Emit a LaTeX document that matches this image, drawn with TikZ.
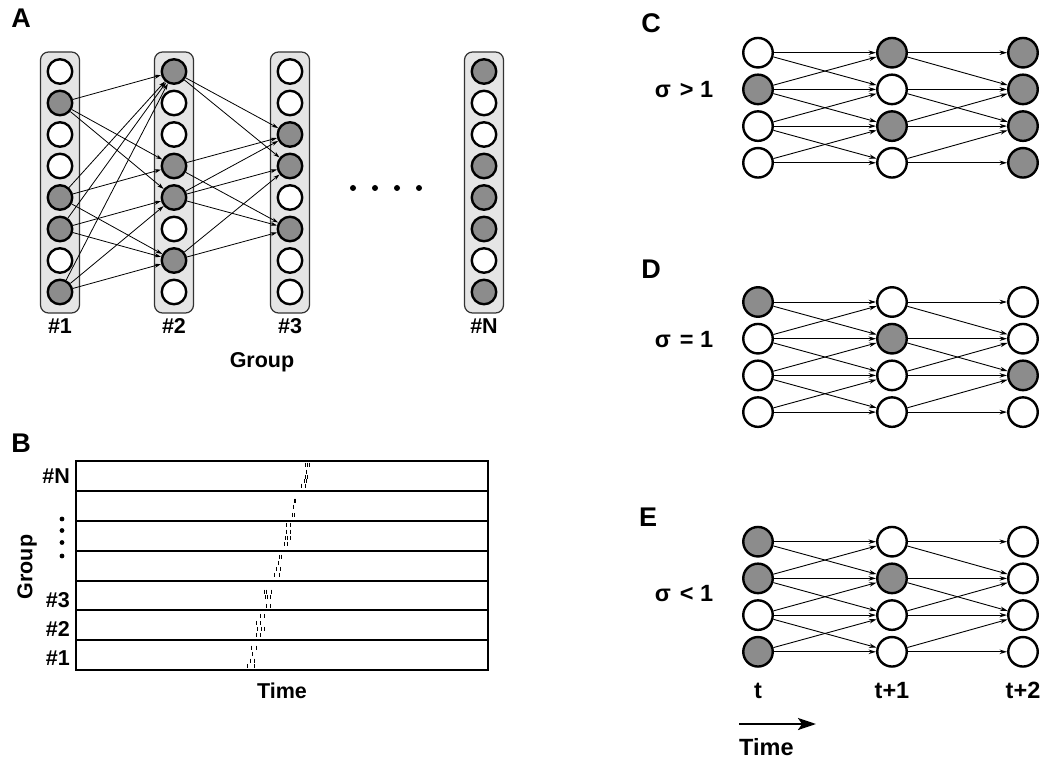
\documentclass[tikz,border=0pt]{standalone}
\usepackage{fontspec}
\setmainfont{Liberation Sans}
\usetikzlibrary{arrows.meta}
\definecolor{cellgray}{gray}{0.55}
\definecolor{colgray}{gray}{0.9}
\begin{document}
\begin{tikzpicture}[x=1pt,y=-1pt,
  lab/.style={font=\fontsize{21.5}{24}\selectfont\bfseries, inner sep=0pt},
  biglab/.style={font=\fontsize{23.5}{26}\selectfont\bfseries, inner sep=0pt},
  panel/.style={font=\fontsize{27}{30}\selectfont\bfseries, inner sep=0pt},
  cellon/.style={fill=cellgray},
  celloff/.style={fill=white},
  acell/.style={circle, draw=black, line width=2.4pt, minimum size=24.5pt, inner sep=0pt},
  bcell/.style={circle, draw=black, line width=2.4pt, minimum size=29.5pt, inner sep=0pt},
  colbox/.style={draw=black!80, fill=colgray, line width=1.2pt, rounded corners=8pt, minimum width=39pt, minimum height=261pt, inner sep=0pt},
  rowbox/.style={draw=black, line width=2pt, minimum width=412pt, minimum height=29.9pt, inner sep=0pt},
  aarrow/.style={line width=0.8pt, -{Stealth[length=6.5pt,width=4pt]}},
  carrow/.style={line width=0.9pt, -{Stealth[length=7.5pt,width=4.5pt]}},
  tick/.style={line width=0.9pt}
]
\useasboundingbox (0,0) rectangle (1050,762);

% ---------- Panel A ----------
\node[panel] at (21,18) {A};
\foreach \g/\x/\pat in {
  1/60/{celloff,cellon,celloff,celloff,cellon,cellon,celloff,cellon},
  2/174/{cellon,celloff,celloff,cellon,cellon,celloff,cellon,celloff},
  3/290/{celloff,celloff,cellon,cellon,celloff,cellon,celloff,celloff},
  N/484/{cellon,celloff,celloff,cellon,cellon,cellon,celloff,cellon}}{
  \node[colbox] (col\g) at (\x,182.5) {};
  \foreach \s [count=\r] in \pat {
    \node[acell,\s] (a\g-\r) at (\x,{71.5+31.5*(\r-1)}) {};
  }
  \node[lab, anchor=base] (lg\g) at (\x,333) {\#\g};
}
\foreach \i/\j in {2/1,2/4,2/5,5/1,5/4,5/7,6/1,6/5,6/7,8/1,8/5,8/7}
  \draw[aarrow] (a1-\i) -- (a2-\j);
\foreach \i/\j in {1/3,1/4,4/3,4/6,5/3,5/4,5/6,7/4,7/6}
  \draw[aarrow] (a2-\i) -- (a3-\j);
\foreach \x [count=\k] in {353,375,397,419}
  \fill (\x,188) circle (3pt);
\node[lab, anchor=base] (grpA) at (262,367) {Group};

% ---------- Panel B ----------
\node[panel] at (21,443) {B};
\foreach \n [count=\k] in {N,6,5,4,3,2,1}
  \node[rowbox] (row\n) at (282,{475.9+29.9*(\k-1)}) {};
\node[lab, anchor=base east] at (70,483) {\#N};
\node[lab, anchor=base east] at (70,607) {\#3};
\node[lab, anchor=base east] at (70,636) {\#2};
\node[lab, anchor=base east] at (70,665) {\#1};
\foreach \y in {519,530.5,542.5,556}
  \fill (62,\y) circle (2.4pt);
\node[lab, rotate=90] at (27,567) {Group};
\node[lab, anchor=base] at (282,698) {Time};
\foreach \x/\y in {
  251.7/647.7,256/647.7,252.7/654,250/660.7,254/660.7,247.7/666,254.3/666,
  260/616,264/616,256.7/623,260.7/623,257.7/629,261.7/629,264.3/629,256.7/635,260.7/635,
  264.3/591.7,266.7/591.7,271.7/591.7,265.7/597,267.7/597,270/597,266/606,270/606,
  279/556.7,281.7/556.7,278.7/563,276.7/569,280.7/569,274.3/575,279/575,
  286.7/525,290/525,286.7/531.7,290/531.7,285/538,287.3/538,290/538,284/544,287.7/544,
  294/500.7,295.5/500.7,293.3/506.7,292/515,294.5/515,
  305.7/464.7,307.3/464.7,309.3/464.7,306.7/471.7,305/476.7,307.3/476.7,304.3/481,306.7/481,301.7/485.7,305/485.7}
  \draw[tick] (\x,\y-2.2) -- (\x,\y+2.2);

% ---------- Panels C, D, E ----------
\node[panel] at (651,23) {C};
\node[panel] at (651,269) {D};
\node[panel] at (648,517) {E};
\foreach \pn/\yb/\cola/\colb/\colc in {
  c/52.7/{celloff,cellon,celloff,celloff}/{cellon,celloff,cellon,celloff}/{cellon,cellon,cellon,cellon},
  d/302/{cellon,celloff,celloff,celloff}/{celloff,cellon,celloff,celloff}/{celloff,celloff,cellon,celloff},
  e/541.7/{cellon,cellon,celloff,cellon}/{celloff,cellon,celloff,celloff}/{celloff,celloff,celloff,celloff}}{
  \foreach \s [count=\r] in \cola
    \node[bcell,\s] (\pn1-\r) at (758,{\yb+36.7*(\r-1)}) {};
  \foreach \s [count=\r] in \colb
    \node[bcell,\s] (\pn2-\r) at (892,{\yb+36.7*(\r-1)}) {};
  \foreach \s [count=\r] in \colc
    \node[bcell,\s] (\pn3-\r) at (1023,{\yb+36.7*(\r-1)}) {};
  \foreach \i/\j in {1/1,1/2,2/1,2/2,2/3,3/2,3/3,3/4,4/3,4/4}
    \draw[carrow] (\pn1-\i) -- (\pn2-\j);
  \foreach \i/\j in {1/1,1/2,2/2,2/3,3/2,3/3,4/3,4/4}
    \draw[carrow] (\pn2-\i) -- (\pn3-\j);
}
\node[biglab] at (684,90) {σ\hspace{9pt}> 1};
\node[biglab] at (684,340) {σ\hspace{9pt}= 1};
\node[biglab] at (684,594) {σ\hspace{9pt}< 1};
\node[biglab, anchor=base] (t0) at (758,698) {t};
\node[biglab, anchor=base] (t1) at (892,698) {t+1};
\node[biglab, anchor=base] (t2) at (1023,698) {t+2};
\coordinate (ts) at (739,724);
\coordinate (te) at (816,724);
\draw[line width=2.4pt, -{Stealth[length=18pt,width=12pt,inset=4pt]}] (ts) -- (te);
\node[biglab, anchor=base west] (timeE) at (739,755) {Time};
\end{tikzpicture}
\end{document}
